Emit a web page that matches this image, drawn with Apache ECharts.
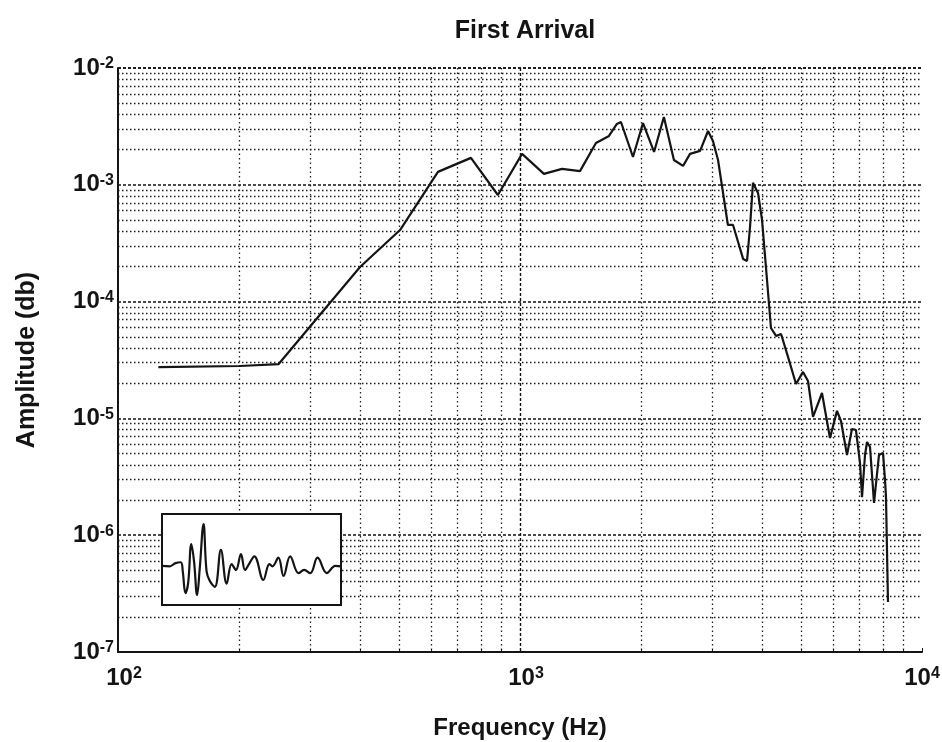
<!DOCTYPE html>
<html>
<head>
<meta charset="utf-8">
<script src="https://cdn.jsdelivr.net/npm/echarts@6/dist/echarts.min.js"></script>
<style>
  html, body { margin: 0; padding: 0; background: #fff; }
  #chart { width: 942px; height: 742px; }
</style>
</head>
<body>
<div id="chart"></div>
<script>
// ---- data ----
const titleText = 'First Arrival';
const xName = 'Frequency (Hz)';
const yName = 'Amplitude (db)';
const xTicks = [100, 1000, 10000];
const yTicks = [1e-7, 1e-6, 1e-5, 1e-4, 1e-3, 1e-2];

const freq = [126, 201, 251, 400, 503, 625, 755, 881, 1012, 1147,
  1272, 1410, 1545, 1665, 1742, 1783, 1910, 2023, 2155, 2280,
  2415, 2544, 2648, 2805, 2936, 3020, 3109, 3290, 3388, 3589,
  3671, 3734, 3798, 3909, 4000, 4116, 4210, 4335, 4461, 4642,
  4860, 5058, 5205, 5357, 5639, 5903, 6145, 6287, 6508, 6695,
  6851, 7011, 7092, 7215, 7299, 7425, 7597, 7816, 7998, 8091,
  8136, 8230];
const amp = [2.75e-5, 2.81e-5, 2.92e-5, 1.98e-4, 4.10e-4, 1.29e-3, 1.70e-3, 8.18e-4, 1.84e-3, 1.24e-3,
  1.37e-3, 1.31e-3, 2.28e-3, 2.62e-3, 3.32e-3, 3.45e-3, 1.73e-3, 3.38e-3, 1.91e-3, 3.81e-3,
  1.63e-3, 1.45e-3, 1.84e-3, 1.95e-3, 2.89e-3, 2.37e-3, 1.63e-3, 4.53e-4, 4.53e-4, 2.32e-4,
  2.23e-4, 4.35e-4, 1.04e-3, 8.51e-4, 5.00e-4, 1.53e-4, 5.94e-5, 5.08e-5, 5.28e-5, 3.36e-5,
  1.97e-5, 2.50e-5, 2.09e-5, 1.03e-5, 1.65e-5, 6.80e-6, 1.16e-5, 9.50e-6, 4.86e-6, 8.11e-6,
  7.95e-6, 4.15e-6, 2.12e-6, 4.86e-6, 6.28e-6, 5.69e-6, 1.89e-6, 4.86e-6, 5.06e-6, 2.97e-6,
  2.12e-6, 2.68e-7];

// inset waveform (relative time 0..100, relative amplitude)
const insetTime = [0, 4.3, 7.5, 10.5, 11.6, 13.1, 14.6, 16.4, 17.9, 19.6,
  21.1, 23.2, 24.9, 26.7, 29.5, 32.9, 36.1, 38.9, 41.3, 44.1,
  46.4, 48.6, 51.6, 56.6, 60.0, 61.7, 65.0, 67.9, 71.6, 76.3,
  79.4, 82.8, 86.9, 92.1, 96.8, 100];
const insetValue = [-0.14, -0.15, -0.08, -0.06, -0.26, -0.74, -0.52, 0.34, -0.04, -0.78,
  -0.19, 0.78, -0.26, -0.47, -0.60, 0.21, -0.53, -0.10, -0.23, 0.12,
  -0.23, -0.10, 0.07, -0.45, -0.10, -0.15, 0.04, -0.36, 0.07, -0.30,
  -0.23, -0.30, 0.04, -0.30, -0.14, -0.15];

// ---- chart ----
const FONT = '"Liberation Sans", Arial, Helvetica, sans-serif';
const INK = '#141414';

function expLabelX(v, idx) {
  const e = Math.round(Math.log10(v));
  const pad = e < Math.round(Math.log10(xTicks[xTicks.length - 1])) ? '{p|}' : '';
  return pad + '{b|10}{s|' + e + '}';
}
function expLabelY(v) {
  const e = Math.round(Math.log10(v));
  return '{b|10}{s|' + e + '}';
}
const richLabel = {
  p: { width: 12, lineHeight: 24 },
  b: { fontSize: 24, fontWeight: 'bold', fontFamily: FONT, color: INK, lineHeight: 24, verticalAlign: 'bottom' },
  s: { fontSize: 16, fontWeight: 'bold', fontFamily: FONT, color: INK, lineHeight: 13, verticalAlign: 'top' }
};

const chart = echarts.init(document.getElementById('chart'), null, { renderer: 'canvas' });
chart.setOption({
  animation: false,
  backgroundColor: '#ffffff',
  title: {
    text: titleText,
    left: 520, top: 14, textAlign: 'center',
    textStyle: { fontFamily: FONT, fontSize: 25, fontWeight: 'bold', color: INK }
  },
  grid: [
    { left: 118, right: 20, top: 68, bottom: 90, containLabel: false, outerBoundsMode: 'none' },
    { left: 162, top: 514, width: 179, height: 91, show: true, backgroundColor: '#fff',
      borderColor: INK, borderWidth: 2, z: 10, outerBoundsMode: 'none' }
  ],
  xAxis: [
    {
      type: 'log', logBase: 10, min: xTicks[0], max: xTicks[xTicks.length - 1], gridIndex: 0,
      name: xName, nameLocation: 'middle', nameGap: 64, nameMoveOverlap: false,
      nameTextStyle: { fontFamily: FONT, fontSize: 24, fontWeight: 'bold', color: INK },
      axisLine: { show: true, lineStyle: { color: INK, width: 2 } },
      axisTick: { show: true, inside: true, length: 4, lineStyle: { color: INK } },
      minorTick: { show: true, splitNumber: 9, length: 3, lineStyle: { color: INK } },
      axisLabel: { margin: 14, formatter: expLabelX, rich: richLabel, hideOverlap: false },
      splitLine: { show: true, showMinLine: false, showMaxLine: false,
        lineStyle: { color: '#111', type: [3, 2], width: 1.4 } },
      minorSplitLine: { show: true, lineStyle: { color: '#222', type: [1.5, 3], width: 1.3 } }
    },
    {
      type: 'value', gridIndex: 1, min: 0, max: 100, show: false
    }
  ],
  yAxis: [
    {
      type: 'log', logBase: 10, min: yTicks[0], max: yTicks[yTicks.length - 1], gridIndex: 0,
      name: yName, nameLocation: 'middle', nameGap: 78, nameRotate: 90, nameMoveOverlap: false,
      nameTextStyle: { fontFamily: FONT, fontSize: 25, fontWeight: 'bold', color: INK },
      axisLine: { show: true, lineStyle: { color: INK, width: 2 } },
      axisTick: { show: false },
      minorTick: { show: false, splitNumber: 9 },
      axisLabel: { margin: 4, formatter: expLabelY, rich: richLabel },
      splitLine: { show: true, showMinLine: false, lineStyle: { color: '#111', type: [3, 2], width: 1.5 } },
      minorSplitLine: { show: true, lineStyle: { color: '#1c1c1c', type: [1.5, 2.5], width: 1.4 } }
    },
    {
      type: 'value', gridIndex: 1, min: -1, max: 1, show: false
    }
  ],
  series: [
    {
      type: 'line', xAxisIndex: 0, yAxisIndex: 0,
      data: freq.map((f, i) => [f, amp[i]]),
      showSymbol: false, smooth: false,
      lineStyle: { color: INK, width: 2.2 },
      z: 5
    },
    {
      type: 'line', xAxisIndex: 1, yAxisIndex: 1,
      data: insetTime.map((t, i) => [t, insetValue[i]]),
      showSymbol: false, smooth: 0.4,
      lineStyle: { color: INK, width: 2.2 },
      z: 12
    }
  ]
});
</script>
</body>
</html>
